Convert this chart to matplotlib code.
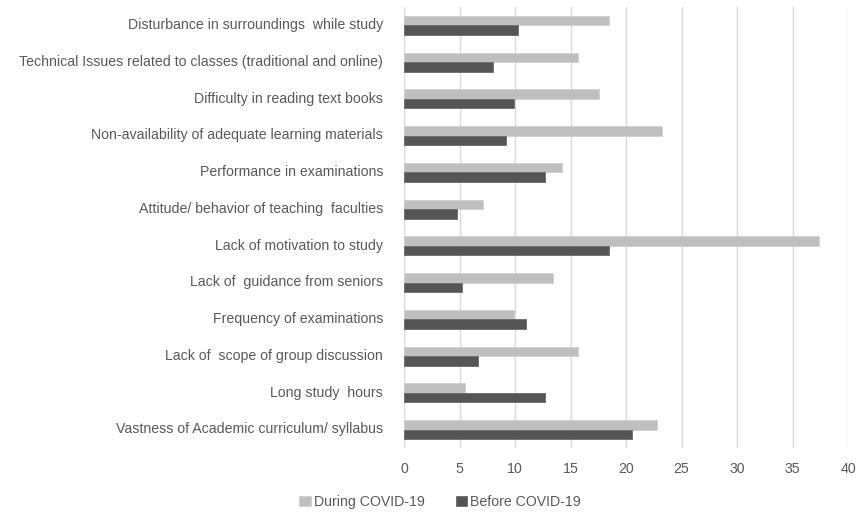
import numpy as np
import matplotlib.pyplot as plt

# Reasons listed top to bottom
reasons = [
    "Disturbance in surroundings  while study",
    "Technical Issues related to classes (traditional and online)",
    "Difficulty in reading text books",
    "Non-availability of adequate learning materials",
    "Performance in examinations",
    "Attitude/ behavior of teaching  faculties",
    "Lack of motivation to study",
    "Lack of  guidance from seniors",
    "Frequency of examinations",
    "Lack of  scope of group discussion",
    "Long study  hours",
    "Vastness of Academic curriculum/ syllabus",
]
during = [18.5, 15.7, 17.6, 23.2, 14.2, 7.1, 37.4, 13.4, 9.9, 15.7, 5.5, 22.8]
before = [10.3, 8.0, 9.9, 9.2, 12.7, 4.8, 18.5, 5.2, 11.0, 6.7, 12.7, 20.5]

light = "#bfbfbf"
dark = "#555555"
text_col = "#595959"

plt.rcParams['font.family'] = ['Liberation Sans', 'DejaVu Sans']

fig = plt.figure(figsize=(8.59, 5.15), dpi=100)
ax = fig.add_axes([404 / 859, 1 - 448 / 515, 444 / 859, 441 / 515])

y = np.arange(len(reasons))[::-1]
h = 0.26
ax.barh(y + h / 2, during, height=h, color=light, edgecolor="#d0d0d0",
        linewidth=0.6, label="During COVID-19")
ax.barh(y - h / 2, before, height=h, color=dark, edgecolor="#6a6a6a",
        linewidth=0.6, label="Before COVID-19")

ax.set_xlim(0, 40)
ax.set_ylim(-0.5, len(reasons) - 0.5)
ax.set_xticks(range(0, 41, 5))
ax.set_yticks(y + 0.05)
ax.set_yticklabels(reasons)
ax.tick_params(axis="both", length=0, colors=text_col)
ax.tick_params(axis="y", pad=15, labelsize=10.2)
ax.tick_params(axis="x", pad=10, labelsize=10.2)
ax.grid(axis="x", color="#d9d9d9", linewidth=1)
ax.set_axisbelow(True)
for s in ax.spines.values():
    s.set_visible(False)

leg = fig.legend(loc="center", bbox_to_anchor=(440 / 859, 1 - 502 / 515),
                 ncol=2, frameon=False, fontsize=10.2, handlelength=0.8,
                 handleheight=0.8, handletextpad=0.2, columnspacing=2.2)
for t in leg.get_texts():
    t.set_color(text_col)

fig.savefig("out.png", dpi=100)
